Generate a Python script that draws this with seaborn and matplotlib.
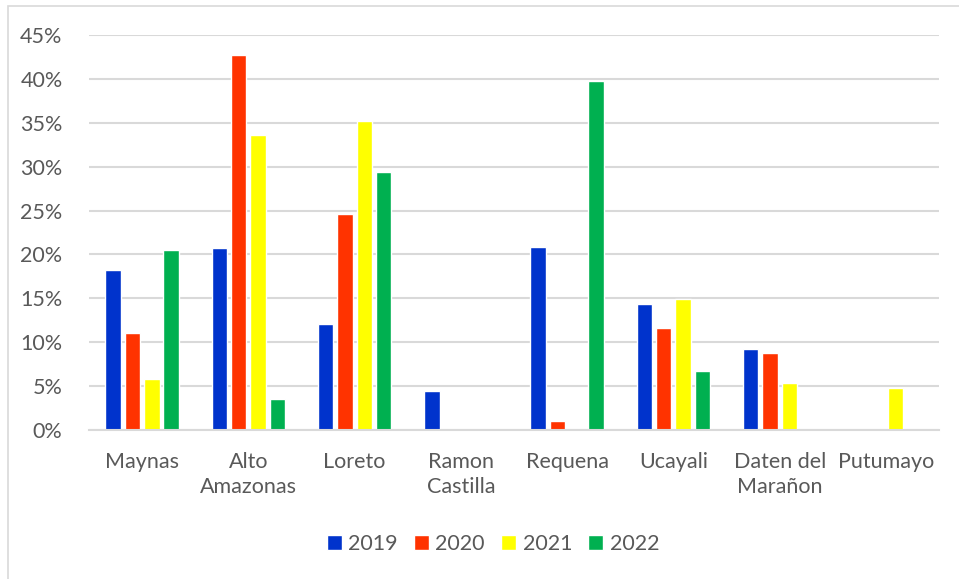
import numpy as np
import pandas as pd
import seaborn as sns
import matplotlib.pyplot as plt
from matplotlib.patches import Rectangle
from matplotlib.ticker import PercentFormatter

provinces = ["Maynas", "Alto\nAmazonas", "Loreto", "Ramon\nCastilla", "Requena",
             "Ucayali", "Daten del\nMarañon", "Putumayo"]
years = ["2019", "2020", "2021", "2022"]
v2019 = [18.2, 20.7, 12.1, 4.5, 20.8, 14.3, 9.2, 0.0]
v2020 = [11.0, 42.7, 24.6, 0.0, 1.0, 11.6, 8.8, 0.0]
v2021 = [5.8, 33.6, 35.2, 0.0, 0.0, 14.9, 5.4, 4.8]
v2022 = [20.5, 3.5, 29.4, 0.0, 39.8, 6.7, 0.0, 0.0]
colors = ["#0033CC", "#FF3300", "#FFFF00", "#00B050"]

rows = []
for year, vals in zip(years, [v2019, v2020, v2021, v2022]):
    for p, v in zip(provinces, vals):
        rows.append({"province": p, "year": year, "value": v})
df = pd.DataFrame(rows)

sns.set_style("white")
plt.rcParams["font.family"] = ["Lato", "DejaVu Sans"]
text_col = "#595959"
fs = 15.5

fig = plt.figure(figsize=(9.59, 5.79), dpi=100)
ax = fig.add_axes([89 / 959, 1 - 430 / 579, (939 - 89) / 959, (430 - 35) / 579])

sns.barplot(data=df, x="province", y="value", hue="year", palette=colors,
            width=0.73, gap=0.2, saturation=1, ax=ax)

ax.set_ylim(0, 45)
ax.set_yticks(np.arange(0, 46, 5))
ax.yaxis.set_major_formatter(PercentFormatter(decimals=0))
ax.grid(axis="y", color="#D9D9D9", linewidth=1.5)
ax.set_axisbelow(True)
for s in ["top", "right", "left"]:
    ax.spines[s].set_visible(False)
ax.spines["bottom"].set_color("#D9D9D9")
ax.spines["bottom"].set_linewidth(1.5)
ax.tick_params(axis="both", length=0, labelsize=fs, colors=text_col)
ax.tick_params(axis="x", pad=16)
ax.tick_params(axis="y", pad=19)
for lbl in ax.get_xticklabels():
    lbl.set_linespacing(1.3)
ax.set_xlabel("")
ax.set_ylabel("")

ax.legend(loc="center", bbox_to_anchor=(493 / 959, 1 - 544 / 579),
          bbox_transform=fig.transFigure, ncol=4, frameon=False,
          fontsize=fs, handlelength=0.7, handleheight=0.7,
          handletextpad=0.3, columnspacing=0.75, labelcolor=text_col)

fig.patches.append(Rectangle((8 / 959, -0.1), 1.1, 1 - 6 / 579 + 0.1,
                             transform=fig.transFigure, fill=False,
                             edgecolor="#D9D9D9", linewidth=1.2))

fig.savefig("out.png", dpi=100)
